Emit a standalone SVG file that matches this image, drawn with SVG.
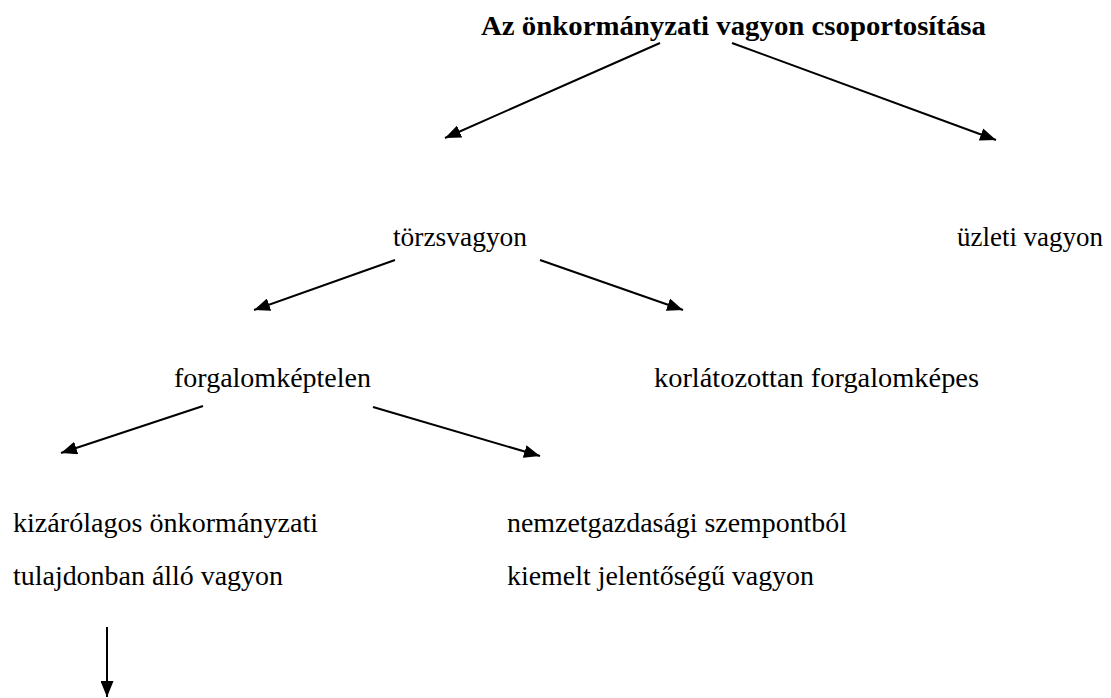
<svg xmlns="http://www.w3.org/2000/svg" width="1111" height="698" viewBox="0 0 1111 698">
<style>
text{font-family:"Liberation Serif","DejaVu Serif",serif;font-size:27px;fill:#000}
.b{font-weight:bold}
.c line{stroke:#000;stroke-width:2;marker-end:url(#ah)}
</style>
<defs>
<marker id="ah" markerUnits="userSpaceOnUse" markerWidth="17" markerHeight="13" refX="16" refY="6.5" orient="auto">
<path d="M0,0 L16,6.5 L0,13 Z" fill="#000"/>
</marker>
</defs>
<rect width="1111" height="698" fill="#fff"/>
<g id="title"><text class="b" x="481" y="35" textLength="505" lengthAdjust="spacingAndGlyphs">Az önkormányzati vagyon csoportosítása</text></g>
<g id="torzs"><text x="393" y="246" textLength="134" lengthAdjust="spacingAndGlyphs">törzsvagyon</text></g>
<g id="uzleti"><text x="957" y="246" textLength="146" lengthAdjust="spacingAndGlyphs">üzleti vagyon</text></g>
<g id="forgkept"><text x="174" y="387" textLength="197" lengthAdjust="spacingAndGlyphs">forgalomképtelen</text></g>
<g id="korl"><text x="654" y="387" textLength="325" lengthAdjust="spacingAndGlyphs">korlátozottan forgalomképes</text></g>
<g id="kizar"><text x="13" y="532" textLength="305" lengthAdjust="spacingAndGlyphs">kizárólagos önkormányzati</text><text x="13" y="585" textLength="270" lengthAdjust="spacingAndGlyphs">tulajdonban álló vagyon</text></g>
<g id="nemzet"><text x="507" y="532" textLength="340" lengthAdjust="spacingAndGlyphs">nemzetgazdasági szempontból</text><text x="507" y="585" textLength="307" lengthAdjust="spacingAndGlyphs">kiemelt jelentőségű vagyon</text></g>
<g id="connectors" class="c">
<line x1="660" y1="43" x2="445" y2="138"/>
<line x1="732" y1="43" x2="996" y2="140"/>
<line x1="395" y1="260" x2="254" y2="310"/>
<line x1="540" y1="260" x2="683" y2="310"/>
<line x1="203" y1="406" x2="61" y2="453"/>
<line x1="373" y1="407" x2="540" y2="456"/>
<line x1="107" y1="627" x2="107" y2="697"/>
</g>
</svg>
